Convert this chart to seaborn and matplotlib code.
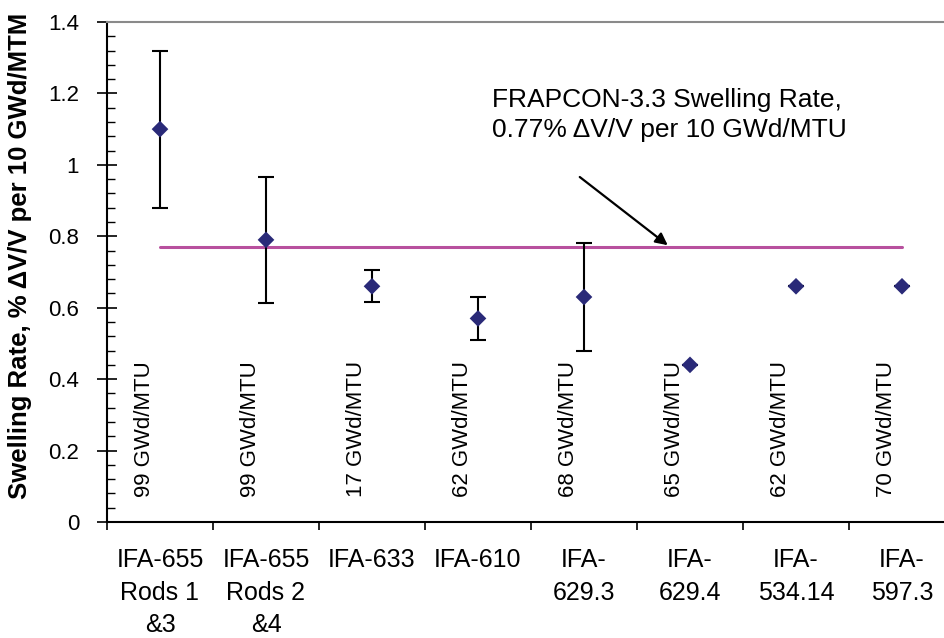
import numpy as np
import pandas as pd
import matplotlib
matplotlib.use("Agg")
import matplotlib.pyplot as plt
from matplotlib.ticker import MultipleLocator, FuncFormatter
import seaborn as sns

# ---------------- data ----------------
categories = ["IFA-655\nRods 1\n&3", "IFA-655\nRods 2\n&4", "IFA-633", "IFA-610",
              "IFA-\n629.3", "IFA-\n629.4", "IFA-\n534.14", "IFA-\n597.3"]
swelling_rate = [1.10, 0.79, 0.66, 0.57, 0.63, 0.44, 0.66, 0.66]
err_lower = [0.22, 0.177, 0.045, 0.06, 0.15, 0.0, 0.0, 0.0]
err_upper = [0.22, 0.177, 0.045, 0.06, 0.15, 0.0, 0.0, 0.0]
burnup_labels = ["99 GWd/MTU", "99 GWd/MTU", "17 GWd/MTU", "62 GWd/MTU",
                 "68 GWd/MTU", "65 GWd/MTU", "62 GWd/MTU", "70 GWd/MTU"]
frapcon_rate = 0.77
y_ticks = [0, 0.2, 0.4, 0.6, 0.8, 1.0, 1.2, 1.4]

# ---------------- style ----------------
sns.set_theme(style="white")
plt.rcParams["font.family"] = ["Liberation Sans", "DejaVu Sans"]
plt.rcParams["text.color"] = "black"
plt.rcParams["axes.labelcolor"] = "black"
plt.rcParams["xtick.color"] = "black"
plt.rcParams["ytick.color"] = "black"

fig = plt.figure(figsize=(9.45, 6.38), dpi=100)
ax = fig.add_axes([107 / 945, 116 / 638, 848 / 945, 500 / 638])

pos = np.arange(len(categories))
df = pd.DataFrame({"pos": pos, "rate": swelling_rate, "cat": categories})

# FRAPCON line
sns.lineplot(x=[pos[0], pos[-1]], y=[frapcon_rate, frapcon_rate], color="#B8509E",
             linewidth=2.2, ax=ax, zorder=2)

# error bars
ax.errorbar(df["pos"], df["rate"], yerr=[err_lower, err_upper], fmt="none",
            ecolor="black", elinewidth=1.5, capsize=6, capthick=1.5, zorder=3)

# points
sns.scatterplot(data=df, x="pos", y="rate", marker="D", s=72, color="#2A2A78",
                edgecolor="none", linewidth=0, ax=ax, zorder=4)

# rotated burnup labels
for p, lab in zip(pos, burnup_labels):
    ax.text(p - 0.15, 0.07, lab, rotation=90, ha="center", va="bottom",
            fontsize=16, color="black")

# annotation
ax.text(3.13, 1.215, "FRAPCON-3.3 Swelling Rate,\n0.77% ΔV/V per 10 GWd/MTU",
        ha="left", va="top", fontsize=19, linespacing=1.3, color="black")
ax.annotate("", xy=(4.79, frapcon_rate + 0.005), xytext=(3.96, 0.966),
            arrowprops=dict(arrowstyle="-|>", color="black", lw=1.6,
                            mutation_scale=18, shrinkA=0, shrinkB=0))

# axes
ax.set_xlim(-0.5, len(categories) - 0.5)
ax.set_ylim(0, 1.4)
ax.set_xlabel("")
ax.set_ylabel("Swelling Rate, % ΔV/V per 10 GWd/MTM", fontsize=18.5,
              fontweight="bold", color="black")
ax.yaxis.set_label_coords(-0.088, 0.532)

ax.set_xticks(np.arange(-0.5, len(categories), 1.0))
ax.set_xticklabels([])
ax.set_xticks(pos, minor=True)
ax.set_xticklabels(categories, minor=True, fontsize=18, linespacing=1.45)
ax.tick_params(axis="x", which="major", direction="out", length=6, width=1.2,
               color="black", bottom=True)
ax.tick_params(axis="x", which="minor", length=0, pad=19, bottom=True,
               labelcolor="black")

ax.set_yticks(y_ticks)
ax.yaxis.set_major_formatter(FuncFormatter(lambda v, _: f"{v:g}"))
ax.yaxis.set_minor_locator(MultipleLocator(0.04))
ax.tick_params(axis="y", which="major", direction="inout", length=14, width=1.2,
               color="black", left=True, labelsize=16, pad=13, labelcolor="black")
ax.tick_params(axis="y", which="minor", direction="in", length=6, width=1.0,
               color="black", left=True)

for side in ["left", "bottom"]:
    ax.spines[side].set_color("black")
    ax.spines[side].set_linewidth(1.5)
ax.spines["top"].set_color("#8a8a8a")
ax.spines["top"].set_linewidth(1.5)
ax.spines["right"].set_visible(False)
ax.grid(False)

fig.savefig("out.png", dpi=100)
